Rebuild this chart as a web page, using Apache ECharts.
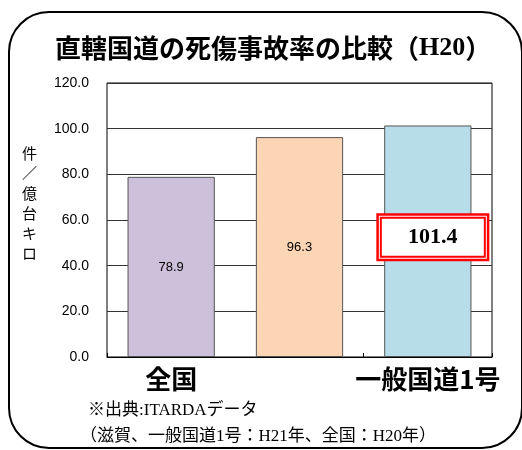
<!DOCTYPE html>
<html><head><meta charset="utf-8">
<script src="https://cdn.jsdelivr.net/npm/echarts@6/dist/echarts.min.js"></script>
<style>html,body{margin:0;padding:0;background:#fff}#c{width:522px;height:450px}</style>
</head><body><div id="c"></div>
<script>
const categories = ['全国', '滋賀', '一般国道1号'];
const values = [78.9, 96.3, 101.4];
const barColors = ['#ccc0da', '#fcd5b5', '#b7dee8'];
const yTicks = [0, 20, 40, 60, 80, 100, 120];
const yName = ['件', '／', '億', '台', 'キ', 'ロ'];

const chart = echarts.init(document.getElementById('c'), null, {renderer: 'canvas'});
const data = values.map((v, i) => {
  const d = {value: v, itemStyle: {color: barColors[i]}};
  if (i === 2) {
    d.label = {
      formatter: '{a|' + v.toFixed(1) + '}',
      backgroundColor: '#fff',
      borderColor: '#ff0000',
      borderWidth: 2.5,
      padding: 2,
      offset: [5, -4],
      rich: {
        a: {
          fontFamily: 'Liberation Serif',
          fontWeight: 'bold',
          fontSize: 22,
          color: '#000',
          borderColor: '#ff0000',
          borderWidth: 2,
          width: 104,
          height: 39,
          align: 'center',
          verticalAlign: 'middle'
        }
      }
    };
  }
  return d;
});

chart.setOption({
  animation: false,
  title: {
    text: '直轄国道の死傷事故率の比較（{s|H20}）',
    left: 50, top: 30,
    textStyle: {fontFamily: 'Noto Sans CJK JP', fontWeight: 'bold', fontSize: 26, color: '#000',
      rich: {s: {fontFamily: 'Liberation Serif', fontWeight: 'bold', fontSize: 26, color: '#000'}}}
  },
  graphic: [
    {type: 'rect', shape: {x: 9, y: 12, width: 513, height: 436, r: 40},
     style: {fill: 'none', stroke: '#000', lineWidth: 2}, z: 100},
    {type: 'text', left: 22, top: 143,
     style: {text: yName.join('\n'), font: '15px "Noto Sans CJK JP"', lineHeight: 20, fill: '#000', align: 'center'}},
    {type: 'text', left: 88, top: 402,
     style: {text: '※出典:ITARDAデータ', font: '17px "Liberation Serif", "Noto Sans CJK JP"', fill: '#000'}},
    {type: 'text', left: 80, top: 428,
     style: {text: '（滋賀、一般国道1号：H21年、全国：H20年）', font: '17px "Liberation Serif", "Noto Sans CJK JP"', fill: '#000'}}
  ],
  grid: {left: 107, right: 30, top: 83, bottom: 93, show: true, borderColor: '#000', borderWidth: 1},
  xAxis: {
    type: 'category', data: categories,
    axisLine: {show: true, lineStyle: {color: '#000'}},
    axisTick: {show: true, inside: true, length: 4, lineStyle: {color: '#000'}},
    axisLabel: {fontFamily: 'Noto Sans CJK JP', fontWeight: 'bold', fontSize: 26, color: '#000', margin: 9}
  },
  yAxis: {
    type: 'value', min: 0, max: 120, interval: 20,
    axisLine: {show: false}, axisTick: {show: false},
    splitLine: {lineStyle: {color: '#333', width: 1}},
    axisLabel: {fontFamily: 'Liberation Sans', fontSize: 14, color: '#000', margin: 18,
      formatter: v => yTicks.includes(v) ? v.toFixed(1) : ''}
  },
  series: [{
    type: 'bar', data: data, barWidth: '68%',
    itemStyle: {borderColor: '#555', borderWidth: 1},
    label: {show: true, position: 'inside', fontFamily: 'Liberation Sans', fontSize: 13, color: '#000',
      formatter: p => p.value.toFixed(1)}
  }]
});
</script></body></html>
